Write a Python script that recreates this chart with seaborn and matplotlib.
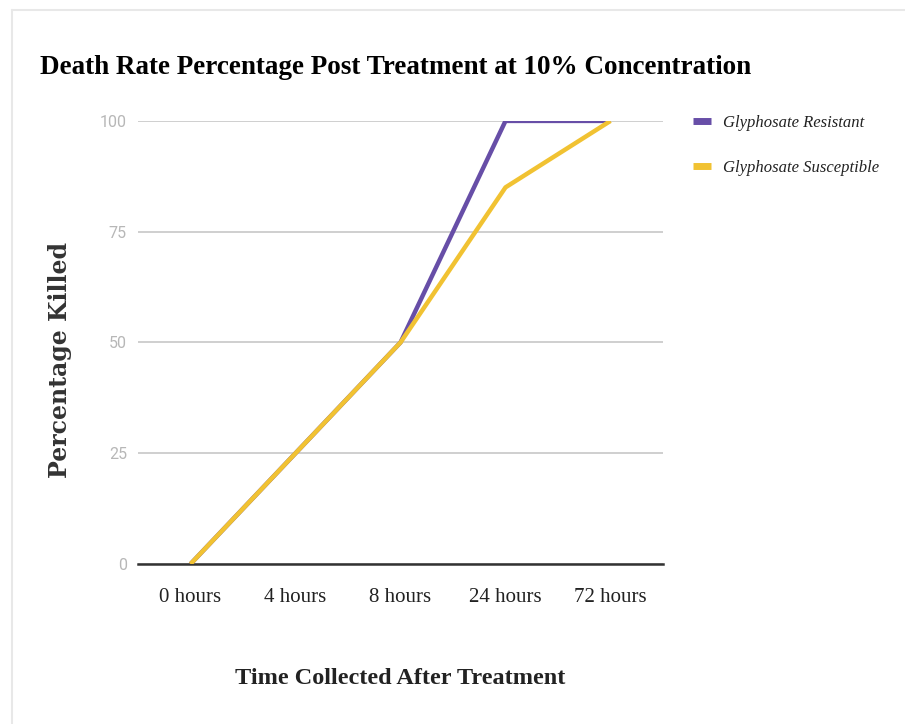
"""Death rate line chart, glyphosate resistant vs susceptible."""
import matplotlib
matplotlib.use("Agg")
import matplotlib.pyplot as plt
import pandas as pd
import seaborn as sns
from matplotlib.lines import Line2D

# data
time_labels = ["0 hours", "4 hours", "8 hours", "24 hours", "72 hours"]
resistant = [0, 25, 50, 100, 100]
susceptible = [0, 25, 50, 85, 100]
series_names = ["Glyphosate Resistant", "Glyphosate Susceptible"]
y_ticks = [0, 25, 50, 75, 100]

colors = {"Glyphosate Resistant": "#674ea7", "Glyphosate Susceptible": "#f1c232"}

df = pd.DataFrame({
    "time": time_labels * 2,
    "pct": resistant + susceptible,
    "series": [series_names[0]] * len(time_labels) + [series_names[1]] * len(time_labels),
})

sns.set_theme(style="white")
plt.rcParams["font.family"] = ["Liberation Serif", "DejaVu Serif"]

fig = plt.figure(figsize=(9.05, 7.24), dpi=100)
ax = fig.add_axes([0.1525, 0.221, 0.5801, 0.612])

sns.lineplot(
    data=df, x="time", y="pct", hue="series", palette=colors,
    linewidth=3.2, sort=False, legend=False, ax=ax,
    estimator=None, solid_capstyle="butt",
)

ax.set_xlim(-0.5, len(time_labels) - 0.5)
ax.set_ylim(0, 100)
ax.set_yticks(y_ticks)
ax.set_yticklabels([str(v) for v in y_ticks], family="Roboto", fontsize=11.5, color="#b7b7b7")
ax.set_xticks(range(len(time_labels)))
ax.set_xticklabels(time_labels, fontsize=15, color="#222222")
ax.tick_params(axis="x", length=0, pad=17)
ax.tick_params(axis="y", length=0, pad=8)

ax.grid(axis="y", color="#cccccc", linewidth=1.3)
ax.set_axisbelow(True)
for side in ["top", "right", "left"]:
    ax.spines[side].set_visible(False)
ax.spines["bottom"].set_color("#333333")
ax.spines["bottom"].set_linewidth(1.8)
ax.spines["bottom"].set_zorder(1)

ax.set_xlabel("Time Collected After Treatment", fontsize=17.5, fontweight="bold",
              color="#222222", labelpad=44)
ax.set_ylabel("Percentage Killed", family="DejaVu Serif", fontsize=17,
              fontweight="bold", color="#333333")
ax.yaxis.set_label_coords(-0.125, 0.46)

fig.text(0.044, 0.907, "Death Rate Percentage Post Treatment at 10% Concentration",
         fontsize=19.5, fontweight="bold", color="#000000", va="center", ha="left")

# legend on the right
handles = [Line2D([0], [0], color=colors[n], lw=5, solid_capstyle="butt") for n in series_names]
leg = fig.legend(handles, series_names, loc="upper left",
                 bbox_to_anchor=(678 / 905, 1 - 100 / 724), frameon=False,
                 prop={"family": "Liberation Serif", "style": "italic", "size": 12},
                 handlelength=1.05, handletextpad=0.75, labelspacing=1.75)
for t in leg.get_texts():
    t.set_color("#222222")

# card edge
fig.add_artist(Line2D([12 / 905, 12 / 905], [0, 1 - 10 / 724], color="#e8e8e8", lw=1.5))
fig.add_artist(Line2D([12 / 905, 1], [1 - 10 / 724, 1 - 10 / 724], color="#e8e8e8", lw=1.5))

fig.savefig("out.png", dpi=100)
plt.close(fig)
